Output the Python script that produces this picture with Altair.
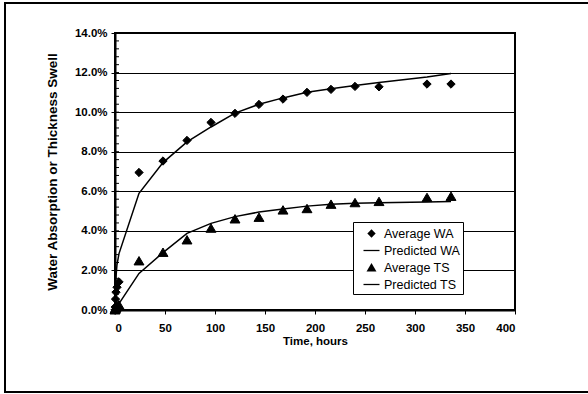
import altair as alt
import pandas as pd

# Soaking times (hours) and measured / predicted responses (percent)
hours = [0, 0.25, 0.5, 1, 2, 4, 24, 48, 72, 96, 120, 144, 168, 192, 216, 240, 264, 312, 336]
avg_wa = [0, 0.15, 0.55, 0.9, 1.15, 1.42, 6.95, 7.53, 8.57, 9.48, 9.94, 10.39, 10.66,
          11.0, 11.15, 11.3, 11.28, 11.42, 11.42]
pred_wa = [0, 0.8, 1.2, 1.7, 2.3, 2.85, 5.9, 7.45, 8.5, 9.25, 9.95, 10.4, 10.72,
           11.0, 11.18, 11.35, 11.5, 11.78, 11.95]
avg_ts = [0, 0.04, 0.08, 0.12, 0.18, 0.25, 2.48, 2.91, 3.54, 4.13, 4.6, 4.68, 5.05,
          5.12, 5.34, 5.42, 5.48, 5.68, 5.74]
pred_ts = [0, 0.02, 0.04, 0.08, 0.16, 0.32, 1.85, 2.9, 3.87, 4.38, 4.72, 4.95, 5.1,
           5.25, 5.34, 5.39, 5.42, 5.46, 5.48]

series_names = ["Average WA", "Predicted WA", "Average TS", "Predicted TS"]
y_ticks = [0.0, 0.02, 0.04, 0.06, 0.08, 0.10, 0.12, 0.14]
x_ticks = [0, 50, 100, 150, 200, 250, 300, 350, 400]
minor_y = [i * 0.004 for i in range(36)]

# marker outlines in unit coordinates (scaled by sqrt(size)/2 by Vega)
DIAMOND = "M -0.52 0 L 0 -0.52 L 0.52 0 L 0 0.52 Z"
TRIANGLE = "M 0 -0.55 L 0.62 0.5 L -0.62 0.5 Z"
DASH = "M -1 -0.08 L 1 -0.08 L 1 0.08 L -1 0.08 Z"

rows = []
for name, vals in zip(series_names, [avg_wa, pred_wa, avg_ts, pred_ts]):
    for h, v in zip(hours, vals):
        rows.append({"hours": h, "value": v / 100.0, "series": name})
df = pd.DataFrame(rows)

measured = df[df["series"].str.startswith("Average")]
predicted = df[df["series"].str.startswith("Predicted")]

y_scale = alt.Scale(domain=[0, 0.14], nice=False)
x_enc = alt.X("hours:Q", scale=alt.Scale(domain=[0, 400], nice=False, zero=True),
              axis=alt.Axis(values=x_ticks, title="Time, hours", grid=False))
y_enc = alt.Y("value:Q", scale=y_scale,
              axis=alt.Axis(values=y_ticks, format=".1%", labelOverlap=False,
                            title="Water Absorption or Thickness Swell", grid=True))

lines = alt.Chart(predicted).mark_line(color="black", strokeWidth=1.5).encode(
    x=x_enc, y=y_enc, detail="series:N"
)

points = alt.Chart(measured).mark_point(
    filled=False, fill="black", stroke="black", fillOpacity=1, strokeWidth=1,
    opacity=1, size=256
).encode(
    x=x_enc,
    y=y_enc,
    shape=alt.Shape(
        "series:N",
        scale=alt.Scale(domain=series_names,
                        range=[DIAMOND, DASH, TRIANGLE, DASH]),
        legend=alt.Legend(
            title=None, orient="none", legendX=238, legendY=189,
            fillColor="white", strokeColor="black", padding=3,
            symbolOffset=7, labelOffset=4, rowPadding=2, symbolSize=256,
            labelFont="Liberation Sans", labelFontSize=12.5, labelColor="black",
            symbolFillColor="black", symbolStrokeColor="black",
            symbolStrokeWidth=1,
            labelExpr="datum.label + '\u00a0\u00a0'",
        ),
    ),
)

# short inward minor ticks along the value axis
minor = alt.Chart(pd.DataFrame({"value": minor_y})).mark_rule(
    color="black", strokeWidth=1
).encode(y=y_enc, x=alt.value(0), x2=alt.value(4))

# frame around the whole figure
frame = alt.Chart(pd.DataFrame({"k": [0]})).mark_rect(
    fill=None, fillOpacity=0, stroke="black", strokeWidth=2
).encode(x=alt.value(-110), x2=alt.value(480), y=alt.value(-30), y2=alt.value(359))

chart = alt.layer(lines, points, minor, frame).properties(
    width=400, height=277,
    autosize=alt.AutoSizeParams(type="none"),
    padding={"left": 115, "top": 33, "right": 73, "bottom": 84},
    background="white",
).configure_view(
    stroke="black", strokeWidth=2
).configure_axis(
    labelFont="Liberation Sans", labelFontWeight="bold", labelFontSize=11.5,
    labelColor="black", titleFont="Liberation Sans", titleFontWeight="bold",
    titleFontSize=11.5, titleColor="black", domainColor="black", domainWidth=2,
    tickColor="black", tickSize=4, tickWidth=1, gridColor="black", gridWidth=1,
    gridOpacity=1,
).configure_axisX(
    labelPadding=8, titlePadding=2
).configure_axisY(
    labelPadding=4, titlePadding=15, titleFontSize=13.5
)

chart.save("out.html", embed_options={"renderer": "svg", "actions": False})
